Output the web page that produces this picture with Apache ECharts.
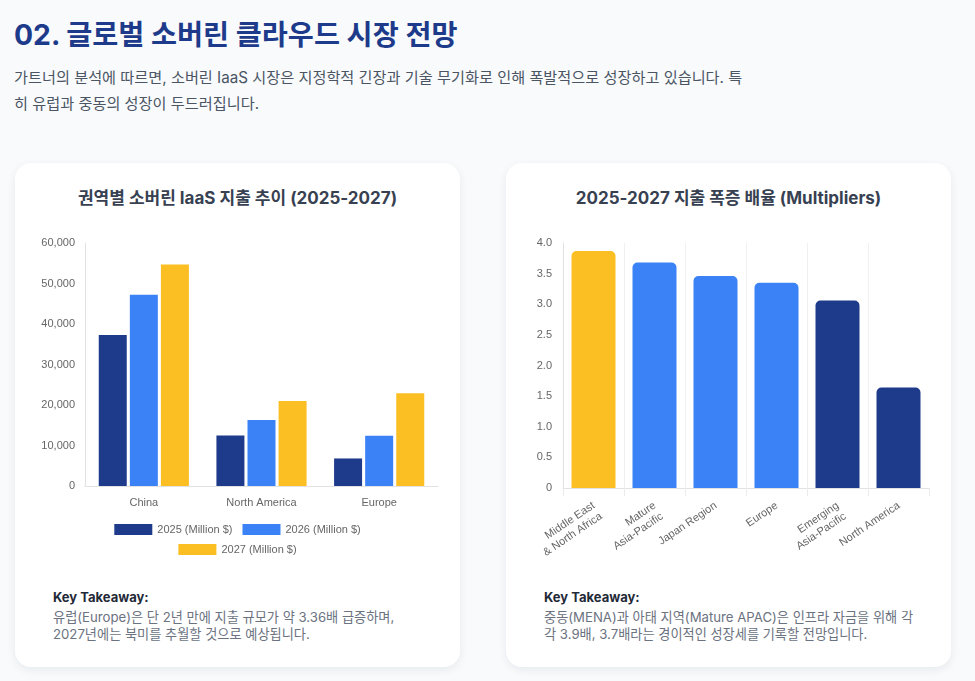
<!DOCTYPE html>
<html>
<head>
<meta charset="utf-8">
<title>02. 글로벌 소버린 클라우드 시장 전망</title>
<script src="https://cdn.jsdelivr.net/npm/echarts@6.0.0/dist/echarts.min.js"></script>
<style>
  body { margin:0; width:975px; height:681px; position:relative; overflow:hidden;
         background:#f8fafc; font-family:Inter, "Noto Sans CJK KR", sans-serif; }
  h1 { position:absolute; left:14px; top:16px; margin:0; font-size:28.3px; line-height:38px;
       color:#1e3a8a; font-weight:700; white-space:nowrap; }
  .desc { position:absolute; left:14px; top:65px; margin:0; font-size:15.2px; line-height:26px;
          color:#4b5563; white-space:nowrap; }
  .card { position:absolute; top:163px; width:445px; height:504px; background:#fff;
          border-radius:16px; box-shadow:0 3px 10px rgba(15,23,42,0.07); }
  .card h2 { position:absolute; left:0; right:0; top:24px; margin:0; text-align:center;
             font-size:17px; line-height:22px; color:#374151; font-weight:700; white-space:nowrap; }
  .chart { position:absolute; left:0; top:62px; width:445px; height:340px; }
  .take { position:absolute; left:38px; top:425px; font-size:13.2px; color:#6b7280; white-space:nowrap; }
  .take b { display:block; color:#1f2937; font-size:13px; line-height:18px; margin-bottom:3px; font-weight:700; }
  .take span { display:block; line-height:17px; }
</style>
</head>
<body>
<h1>02. 글로벌 소버린 클라우드 시장 전망</h1>
<p class="desc">가트너의 분석에 따르면, 소버린 IaaS 시장은 지정학적 긴장과 기술 무기화로 인해 폭발적으로 성장하고 있습니다. 특<br>히 유럽과 중동의 성장이 두드러집니다.</p>

<div class="card" style="left:15px">
  <h2>권역별 소버린 IaaS 지출 추이 (2025-2027)</h2>
  <div class="chart" id="spendChart"></div>
  <div class="take"><b>Key Takeaway:</b><span>유럽(Europe)은 단 2년 만에 지출 규모가 약 3.36배 급증하며,<br>2027년에는 북미를 추월할 것으로 예상됩니다.</span></div>
</div>

<div class="card" style="left:506px">
  <h2>2025-2027 지출 폭증 배율 (Multipliers)</h2>
  <div class="chart" id="multiChart"></div>
  <div class="take"><b>Key Takeaway:</b><span>중동(MENA)과 아태 지역(Mature APAC)은 인프라 자금을 위해 각<br>각 3.9배, 3.7배라는 경이적인 성장세를 기록할 전망입니다.</span></div>
</div>

<script>
// 권역별 지출 (Million $)
var regions = ['China', 'North America', 'Europe'];
var seriesNames = ['2025 (Million $)', '2026 (Million $)', '2027 (Million $)'];
var spend2025 = [37300, 12500, 6800];
var spend2026 = [47200, 16300, 12400];
var spend2027 = [54700, 21000, 22900];

// 2025-2027 배율
var markets = ['Middle East\n& North Africa', 'Mature\nAsia-Pacific', 'Japan Region',
               'Europe', 'Emerging\nAsia-Pacific', 'North America'];
var multipliers = [3.87, 3.68, 3.46, 3.35, 3.06, 1.64];

// 색상
var yearColors = ['#1e3a8a', '#3b82f6', '#fbbf24'];
var marketColors = ['#fbbf24', '#3b82f6', '#3b82f6', '#3b82f6', '#1e3a8a', '#1e3a8a'];

var tickFont = 'Liberation Sans, Arial, sans-serif';
var legendStyle = { icon: 'rect', itemWidth: 38, itemHeight: 11, itemGap: 10,
                    left: 'center', textStyle: { fontSize: 11, color: '#666' } };

var spendChart = echarts.init(document.getElementById('spendChart'));
spendChart.setOption({
  animation: false,
  textStyle: { fontFamily: tickFont },
  grid: { left: 70, right: 22, top: 18, bottom: 79 },
  legend: [
    Object.assign({ data: seriesNames.slice(0, 2), top: 294 }, legendStyle),
    Object.assign({ data: seriesNames.slice(2), top: 314 }, legendStyle)
  ],
  xAxis: {
    type: 'category', data: regions,
    axisLine: { lineStyle: { color: '#e2e2e2' } },
    axisTick: { show: false },
    axisLabel: { color: '#666', fontSize: 11, margin: 11 }
  },
  yAxis: {
    type: 'value', min: 0, max: 60000, interval: 10000,
    axisLine: { show: true, lineStyle: { color: '#e2e2e2' } },
    splitLine: { show: false },
    axisLabel: { color: '#666', fontSize: 11, margin: 10,
                 formatter: function (v) { return v.toLocaleString('en-US'); } }
  },
  series: [spend2025, spend2026, spend2027].map(function (d, i) {
    return { type: 'bar', name: seriesNames[i], data: d, barWidth: 28, barGap: '11%',
             itemStyle: { color: yearColors[i] } };
  })
});

var multiChart = echarts.init(document.getElementById('multiChart'));
multiChart.setOption({
  animation: false,
  textStyle: { fontFamily: tickFont },
  grid: { left: 57, right: 22, top: 18, bottom: 77 },
  xAxis: {
    type: 'category', data: markets,
    axisLine: { lineStyle: { color: '#e2e2e2' } },
    axisTick: { show: true, length: 8, lineStyle: { color: '#ececec' } },
    splitLine: { show: true, showMaxLine: false, lineStyle: { color: '#f0f0f0' } },
    axisLabel: { color: '#666', fontSize: 11, rotate: 34, margin: 9, lineHeight: 13,
                 interval: 0, verticalAlign: 'top', padding: [0, 4, 0, 0] }
  },
  yAxis: {
    type: 'value', min: 0, max: 4, interval: 0.5,
    axisLine: { show: true, lineStyle: { color: '#e2e2e2' } },
    splitLine: { show: false },
    axisLabel: { color: '#666', fontSize: 11, margin: 11,
                 formatter: function (v) { return v === 0 ? '0' : v.toFixed(1); } }
  },
  series: [{
    type: 'bar', data: multipliers, barWidth: 44,
    itemStyle: {
      borderRadius: [5, 5, 0, 0],
      color: function (p) { return marketColors[p.dataIndex]; }
    }
  }]
});
</script>
</body>
</html>
